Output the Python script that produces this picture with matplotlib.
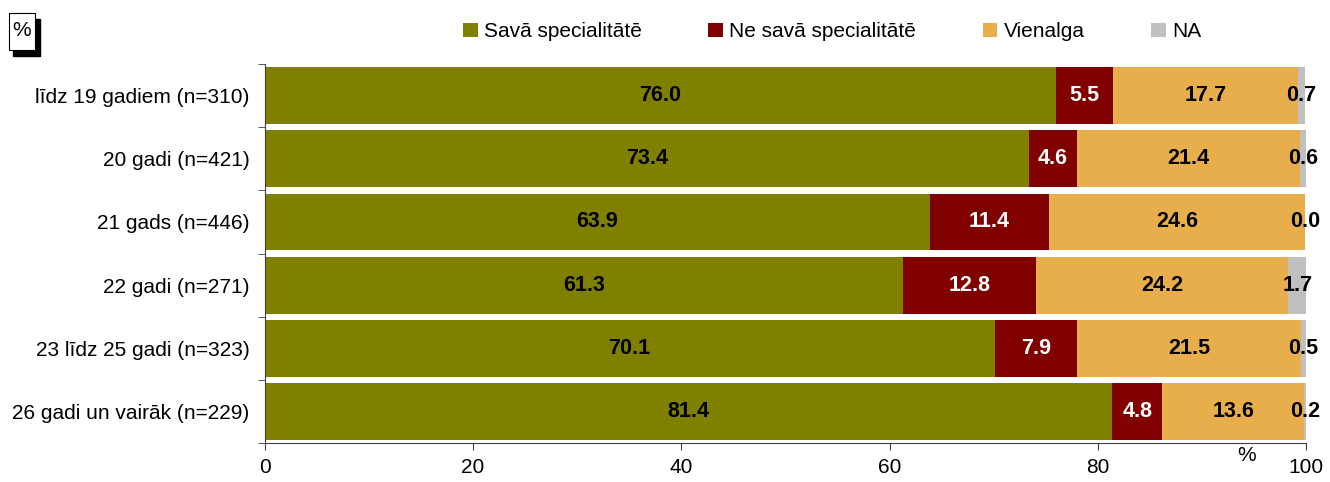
import numpy as np
import matplotlib
matplotlib.use("Agg")
import matplotlib.pyplot as plt
from matplotlib.patches import Rectangle

plt.rcParams["font.family"] = ["Liberation Sans", "DejaVu Sans"]

categories = ["līdz 19 gadiem (n=310)", "20 gadi (n=421)", "21 gads (n=446)",
              "22 gadi (n=271)", "23 līdz 25 gadi (n=323)", "26 gadi un vairāk (n=229)"]
series_names = ["Savā specialitātē", "Ne savā specialitātē", "Vienalga", "NA"]
sava = [76.0, 73.4, 63.9, 61.3, 70.1, 81.4]
ne_sava = [5.5, 4.6, 11.4, 12.8, 7.9, 4.8]
vienalga = [17.7, 21.4, 24.6, 24.2, 21.5, 13.6]
na = [0.7, 0.6, 0.0, 1.7, 0.5, 0.2]

colors = ["#808000", "#800000", "#E8AE4C", "#C0C0C0"]
label_colors = ["black", "white", "black", "black"]
FS = 15

fig = plt.figure(figsize=(13.3, 4.82), dpi=100)
ax = fig.add_axes([0.199, 0.081, 0.783, 0.786])

y = np.arange(len(categories))
left = np.zeros(len(categories))
for vals, name, col, lc in zip([sava, ne_sava, vienalga, na], series_names, colors, label_colors):
    vals = np.array(vals)
    ax.barh(y, vals, left=left, height=0.9, color=col, label=name, edgecolor="none")
    for yi, l, v in zip(y, left, vals):
        ax.text(l + v / 2, yi, f"{v:.1f}", ha="center", va="center",
                color=lc, fontsize=FS + 0.5, fontweight="bold")
    left += vals

ax.set_xlim(0, 100)
ax.set_ylim(len(categories) - 0.5, -0.5)
ax.set_yticks(y)
ax.set_yticklabels(categories, fontsize=FS)
ax.set_yticks(np.arange(-0.5, len(categories)), minor=True)
ax.tick_params(axis="y", which="major", length=0, pad=11)
ax.tick_params(axis="y", which="minor", length=5, color="#404040")
ax.set_xticks(np.arange(0, 101, 20))
ax.tick_params(axis="x", labelsize=FS, length=5, pad=6, color="#404040")
for s in ["top", "right"]:
    ax.spines[s].set_visible(False)
for s in ["left", "bottom"]:
    ax.spines[s].set_color("#404040")
ax.text(94.3, -0.032, "%", transform=ax.get_xaxis_transform(), ha="center", va="center",
        fontsize=FS)

ax.legend(loc="center", bbox_to_anchor=(0.545, 1.085), ncol=4, frameon=False, fontsize=FS,
          handlelength=0.7, handleheight=0.7, handletextpad=0.3, columnspacing=3.2)

# "%" box with drop shadow
fig.patches.append(Rectangle((13 / 1330, 1 - 56 / 482), 27 / 1330, 37 / 482,
                             transform=fig.transFigure, fc="black", ec="black"))
fig.patches.append(Rectangle((9 / 1330, 1 - 50 / 482), 26 / 1330, 37 / 482,
                             transform=fig.transFigure, fc="white", ec="black", lw=0.8))
fig.text(22 / 1330, 1 - 31 / 482, "%", fontsize=FS, ha="center", va="center")

fig.savefig("out.png", dpi=100)
